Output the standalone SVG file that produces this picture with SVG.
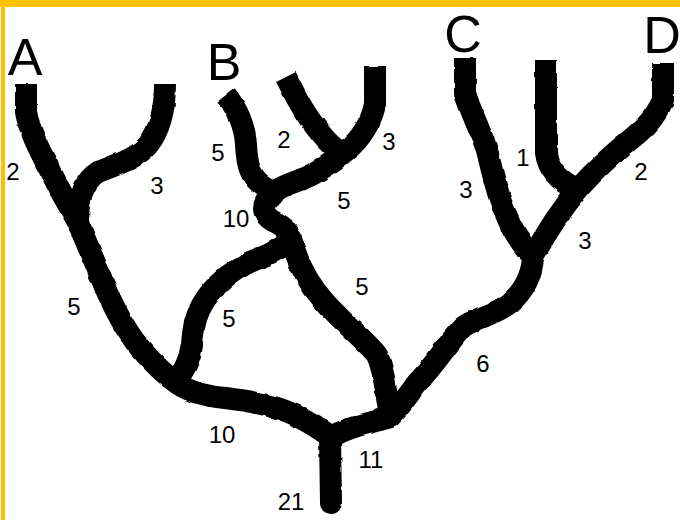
<svg xmlns="http://www.w3.org/2000/svg" width="680" height="520" viewBox="0 0 680 520">
  <style>
    .br { fill: none; stroke: #000; stroke-width: 22; stroke-linejoin: round; stroke-linecap: butt; }
    .root { stroke-linecap: round; }
    .j { fill: #000; }
    .leaf { font-family: "Liberation Sans", Arial, sans-serif; font-size: 52px; fill: #000; text-anchor: middle; }
    .w { font-family: "Liberation Sans", Arial, sans-serif; font-size: 24px; fill: #000; text-anchor: middle; }
  </style>
  <defs>
    <filter id="rough" x="-5%" y="-5%" width="110%" height="110%">
      <feTurbulence type="fractalNoise" baseFrequency="0.08" numOctaves="2" seed="3" result="n"/>
      <feDisplacementMap in="SourceGraphic" in2="n" scale="3" xChannelSelector="R" yChannelSelector="G"/>
    </filter>
  </defs>
  <rect x="0" y="0" width="680" height="520" fill="#fff"/>
  <rect x="0" y="0" width="680" height="7" fill="#FFC000"/>
  <rect x="1" y="0" width="4" height="520" fill="#FFC000"/>

  <g id="connectors" filter="url(#rough)">
    <path class="br" d="M26,84 L26,112 C30,135 45,160 60,190 L78,222 C85,240 92,255 100,275 C110,300 125,330 140,348 C152,362 165,375 178,384 C190,392 205,396 225,398 C250,401 275,405 295,415 C310,423 322,430 330,437"/>
    <path class="br" d="M165,84 C165,110 160,130 148,145 C135,160 115,165 98,172 C85,180 78,195 78,222"/>
    <path class="br" d="M226,95 C238,110 245,125 246,145 C247,165 250,178 265,187 C272,191 276,193 272,196 C260,203 262,216 275,222 C287,228 291,234 291,242"/>
    <path class="br" d="M286,77 C295,95 305,115 318,130 C325,140 332,146 337,150"/>
    <path class="br" d="M375,66 L375,103 C373,120 360,140 347,150 C335,160 320,172 305,178 C295,182 283,185 272,193"/>
    <path class="br" d="M291,240 C280,250 265,256 250,262 C230,272 215,285 205,300 C195,315 193,330 192,345 C190,360 184,370 176,382"/>
    <path class="br" d="M290,235 C295,255 305,280 323,300 C340,320 365,340 377,355 C385,372 386,395 390,417"/>
    <path class="br" d="M465,58 L465,93 C470,110 480,130 487,150 C492,170 497,195 505,212 C512,230 522,245 533,257"/>
    <path class="br" d="M546,60 L546,153 C548,168 558,182 577,188"/>
    <path class="br" d="M663,63 L663,100 C655,118 645,128 630,140 C615,152 597,168 580,187 C565,205 550,225 533,257"/>
    <path class="br" d="M533,257 C532,275 525,290 510,303 C495,315 475,318 463,327 C450,340 435,365 417,383 C408,395 400,408 390,417"/>
    <path class="br" d="M390,417 C375,422 352,425 330,437"/>
    <path class="br root" d="M330,437 L331,503"/>
    <circle class="j" cx="78" cy="222" r="11"/>
    <circle class="j" cx="177" cy="382" r="11"/>
    <circle class="j" cx="337" cy="150" r="11"/>
    <circle class="j" cx="272" cy="194" r="11"/>
    <circle class="j" cx="291" cy="240" r="11"/>
    <circle class="j" cx="577" cy="188" r="11"/>
    <circle class="j" cx="533" cy="257" r="11"/>
    <circle class="j" cx="390" cy="417" r="11"/>
    <circle class="j" cx="330" cy="437" r="11"/>
  </g>

  <g id="edge-labels">
    <text class="w" x="13" y="180">2</text>
    <text class="w" x="157" y="194">3</text>
    <text class="w" x="74" y="315">5</text>
    <text class="w" x="218" y="161">5</text>
    <text class="w" x="284" y="148">2</text>
    <text class="w" x="389" y="150">3</text>
    <text class="w" x="236" y="227">10</text>
    <text class="w" x="344" y="209">5</text>
    <text class="w" x="229" y="327">5</text>
    <text class="w" x="362" y="295">5</text>
    <text class="w" x="222" y="443">10</text>
    <text class="w" x="371" y="468">11</text>
    <text class="w" x="291" y="510">21</text>
    <text class="w" x="483" y="372">6</text>
    <text class="w" x="466" y="198">3</text>
    <text class="w" x="523" y="166">1</text>
    <text class="w" x="641" y="180">2</text>
    <text class="w" x="585" y="249">3</text>
  </g>

  <g id="node-A"><text class="leaf" x="25" y="75">A</text></g>
  <g id="node-B"><text class="leaf" x="224" y="80">B</text></g>
  <g id="node-C"><text class="leaf" x="463" y="52">C</text></g>
  <g id="node-D"><text class="leaf" x="662" y="53">D</text></g>
</svg>
